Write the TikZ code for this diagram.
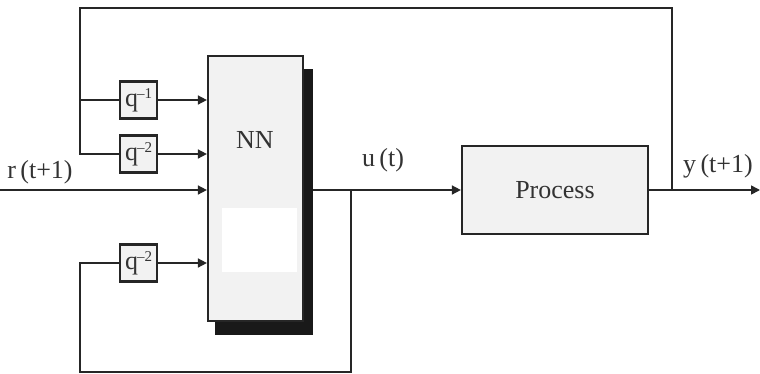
\documentclass[tikz,border=0pt]{standalone}
\usepackage{fontspec}
\setmainfont{Liberation Serif}
\usetikzlibrary{arrows.meta}
\definecolor{boxfill}{HTML}{F2F2F2}
\definecolor{txt}{HTML}{333333}
\tikzset{
  wire/.style={line width=1.6pt, draw=black!85},
  arr/.style={wire, -{Triangle[length=9pt,width=9pt]}},
  delaybox/.style={draw=black!85, line width=2.2pt, fill=boxfill, minimum width=37pt, minimum height=37pt, inner sep=0pt, font=\fontsize{26}{26}\selectfont, text=txt},
  bigbox/.style={draw=black!85, line width=2.2pt, fill=boxfill, inner sep=0pt},
  lbl/.style={font=\fontsize{26}{26}\selectfont, text=txt, inner sep=0pt}
}
\begin{document}
\begin{tikzpicture}[x=1pt,y=-1pt]
\useasboundingbox (0,0) rectangle (760,373);
% NN block with shadow
\fill[black!90] (215,69) rectangle (313,335);
\node[bigbox, minimum width=95pt, minimum height=265pt] (nn) at (255.5,188.5) {};
\fill[white] (222,208) rectangle (297,272);
\node[lbl] at (255,140) {NN};
\coordinate (nnout) at (313,190);
% Process
\node[bigbox, minimum width=186pt, minimum height=88pt, font=\fontsize{26}{26}\selectfont, text=txt] (proc) at (555,190) {Process};
% delay boxes
\node[delaybox] (q1) at (138.5,100) {q\kern-1pt\raisebox{8pt}{\fontsize{15}{15}\selectfont –1}};
\node[delaybox] (q2) at (138.5,154) {q\kern-1pt\raisebox{8pt}{\fontsize{15}{15}\selectfont –2}};
\node[delaybox] (q3) at (138.5,263) {q\kern-1pt\raisebox{8pt}{\fontsize{15}{15}\selectfont –2}};
% coordinates
\coordinate (rin) at (0,190);
\coordinate (yout) at (760,190);
\coordinate (ybr) at (672,190);
\coordinate (ubr) at (351,190);
% arrows into NN
\draw[arr] (q1.east) -- (q1.east -| nn.west);
\draw[arr] (q2.east) -- (q2.east -| nn.west);
\draw[arr] (q3.east) -- (q3.east -| nn.west);
\draw[arr] (rin) -- (rin -| nn.west);
% u(t)
\draw[arr] (nnout) -- (proc.west);
% output
\draw[arr] (proc.east) -- (yout);
% top feedback loop
\draw[wire] (ybr) -- (672,8) -- (80,8) -- (80,154) -- (q2.west);
\draw[wire] (80,100) -- (q1.west);
% bottom feedback loop
\draw[wire] (ubr) -- (351,372) -- (80,372) -- (80,263) -- (q3.west);
% labels
\node[lbl] at (40,172) {r\,(t+1)};
\node[lbl] at (383,160) {u\,(t)};
\node[lbl] at (718,166) {y\,(t+1)};
\end{tikzpicture}
\end{document}
